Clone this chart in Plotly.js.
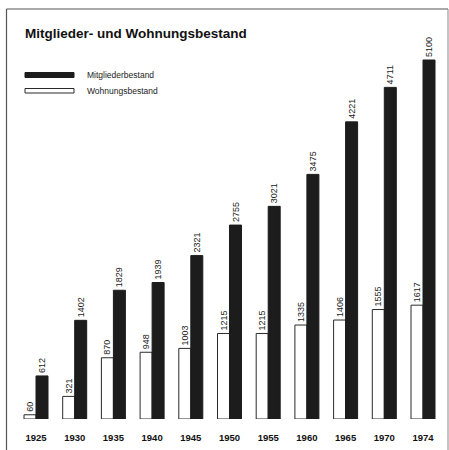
<!DOCTYPE html>
<html>
<head>
<meta charset="utf-8">
<script src="https://cdn.plot.ly/plotly-3.0.1.min.js"></script>
<style>html,body{margin:0;padding:0;background:#fff;}#chart{width:449px;height:450px;}</style>
</head>
<body>
<div id="chart"></div>
<script>
var years = ['1925','1930','1935','1940','1945','1950','1955','1960','1965','1970','1974'];
var mitglieder = [612,1402,1829,1939,2321,2755,3021,3475,4221,4711,5100];
var wohnungen = [60,321,870,948,1003,1215,1215,1335,1406,1555,1617];

var W = 449, H = 450;
function px(x){return x/W;}
function py(y){return 1 - y/H;}

var font = 'Liberation Sans, Arial, Helvetica, sans-serif';

var traceW = {
  type:'bar', x:years, y:wohnungen, name:'Wohnungsbestand',
  marker:{color:'#ffffff', line:{color:'#2a2a2a', width:1}},
  text:wohnungen.map(String), textposition:'outside', textangle:-90, constraintext:'none',
  textfont:{family:font, size:9, color:'#222'}, cliponaxis:false, hoverinfo:'skip'
};
var traceM = {
  type:'bar', x:years, y:mitglieder, name:'Mitgliederbestand',
  marker:{color:'#1c1c1c', line:{color:'#1c1c1c', width:1}},
  text:mitglieder.map(String), textposition:'outside', textangle:-90, constraintext:'none',
  textfont:{family:font, size:9, color:'#222'}, cliponaxis:false, hoverinfo:'skip'
};

var baseY = 419, topVal = 5100, topY = 60;
var scale = (baseY-topY)/topVal;
var rangeMax = 5600;
var topPix = baseY - rangeMax*scale;

var spacing = 38.7, firstC = 36;
var x0 = firstC - spacing/2, x1 = firstC + spacing*10.5;

var layout = {
  width:W, height:H,
  margin:{l:0,r:0,t:0,b:0},
  paper_bgcolor:'#fff', plot_bgcolor:'rgba(0,0,0,0)',
  showlegend:false,
  barmode:'group', bargap:0.38, bargroupgap:0,
  title:{text:'<b>Mitglieder- und Wohnungsbestand</b>', x:px(25), xanchor:'left', y:py(33), yanchor:'middle', xref:'paper', yref:'paper',
         font:{family:font, size:13.5, color:'#111'}},
  xaxis:{type:'category', domain:[px(x0), px(x1)], range:[-0.5,10.5], showgrid:false, zeroline:false, showline:false,
         ticks:'outside', ticklen:10, tickcolor:'rgba(0,0,0,0)', tickfont:{family:font, size:9.5, color:'#111', weight:'bold'}, fixedrange:true},
  yaxis:{domain:[py(baseY), py(topPix)], range:[0,rangeMax], showgrid:false, zeroline:false, showline:false,
         showticklabels:false, ticks:'', fixedrange:true},
  shapes:[
    {type:'line', xref:'paper', yref:'paper', x0:px(6.5), x1:px(448), y0:py(9), y1:py(9), line:{color:'#555', width:1.2}},
    {type:'line', xref:'paper', yref:'paper', x0:px(6.5), x1:px(6.5), y0:py(9), y1:py(450), line:{color:'#555', width:1.2}},
    {type:'line', xref:'paper', yref:'paper', x0:px(448), x1:px(448), y0:py(9), y1:py(450), line:{color:'#888', width:1}},
    {type:'rect', xref:'paper', yref:'paper', x0:px(25), x1:px(74), y0:py(77.5), y1:py(72.5), fillcolor:'#1c1c1c', line:{color:'#1c1c1c', width:1}},
    {type:'rect', xref:'paper', yref:'paper', x0:px(25), x1:px(74), y0:py(93), y1:py(88.5), fillcolor:'#fff', line:{color:'#2a2a2a', width:1}}
  ],
  annotations:[
    {xref:'paper', yref:'paper', x:px(85), y:py(75), xanchor:'left', yanchor:'middle', text:'Mitgliederbestand', showarrow:false, font:{family:font, size:8.5, color:'#222'}},
    {xref:'paper', yref:'paper', x:px(85), y:py(90.5), xanchor:'left', yanchor:'middle', text:'Wohnungsbestand', showarrow:false, font:{family:font, size:8.5, color:'#222'}}
  ]
};

Plotly.newPlot('chart', [traceW, traceM], layout, {displayModeBar:false, staticPlot:true});
</script>
</body>
</html>
